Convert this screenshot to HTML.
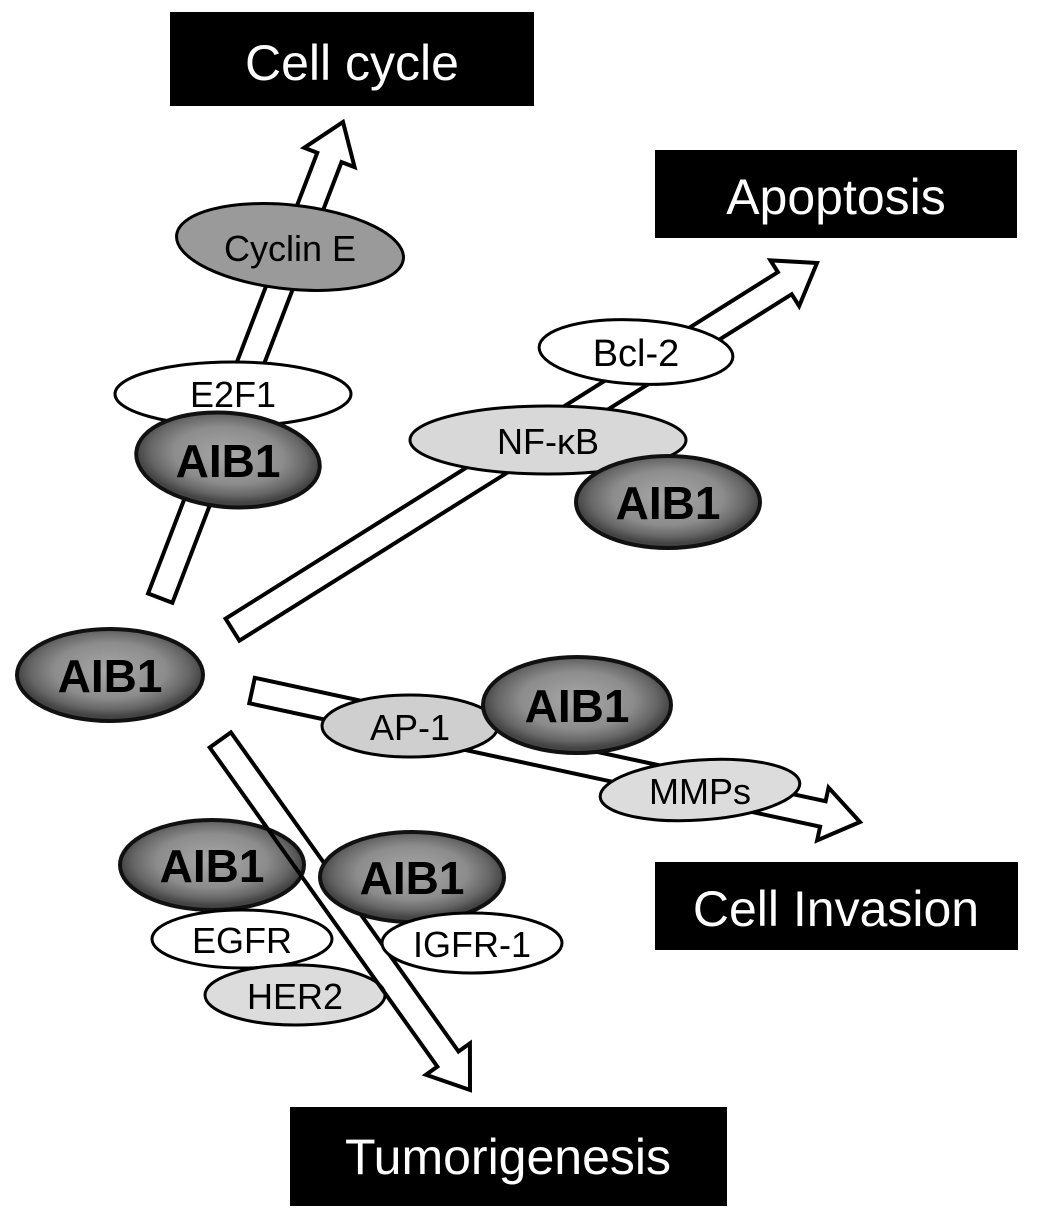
<!DOCTYPE html>
<html><head><meta charset="utf-8"><style>
html,body{margin:0;padding:0;background:#fff;}
svg{display:block;}
text{font-family:"Liberation Sans",sans-serif;}
</style></head><body>
<svg width="1063" height="1217" viewBox="0 0 1063 1217" xmlns="http://www.w3.org/2000/svg">
<defs>
<radialGradient id="g" cx="50%" cy="45%" r="50%">
<stop offset="0" stop-color="#a8a8a8"/><stop offset="0.6" stop-color="#8c8c8c"/><stop offset="0.85" stop-color="#666"/><stop offset="1" stop-color="#444"/>
</radialGradient>
</defs>
<!-- boxes -->
<rect x="170" y="12" width="364" height="94" fill="#000"/>
<text x="352" y="80" font-size="50" fill="#fff" text-anchor="middle">Cell cycle</text>
<rect x="655" y="150" width="362" height="88" fill="#000"/>
<text x="836" y="214" font-size="50" fill="#fff" text-anchor="middle">Apoptosis</text>
<rect x="655" y="862" width="363" height="88" fill="#000"/>
<text x="836" y="926" font-size="50" fill="#fff" text-anchor="middle">Cell Invasion</text>
<rect x="290" y="1107" width="437" height="99" fill="#000"/>
<text x="508" y="1174" font-size="50" fill="#fff" text-anchor="middle">Tumorigenesis</text>

<g transform="translate(343,122) rotate(-69)">
<polygon points="-510,-13 -38,-13 -38,-27 0,0 -38,27 -38,13 -510,13" fill="#fff" stroke="#000" stroke-width="4"/>
</g>
<ellipse cx="290" cy="247" rx="114" ry="42" fill="#9a9a9a" stroke="#000" stroke-width="3" transform="rotate(6 290 247)"/>
<text x="290" y="261" font-size="36" text-anchor="middle">Cyclin E</text>
<ellipse cx="233" cy="394" rx="118" ry="32" fill="#fff" stroke="#000" stroke-width="3"/>
<text x="233" y="407" font-size="36" text-anchor="middle">E2F1</text>
<ellipse cx="228" cy="460" rx="92" ry="47" fill="url(#g)" stroke="#111" stroke-width="4" transform="rotate(5 228 460)"/>
<text x="228" y="477" font-size="46" font-weight="bold" text-anchor="middle">AIB1</text>

<g transform="translate(817,263) rotate(-32.1)">
<polygon points="-690,-13 -38,-13 -38,-27 0,0 -38,27 -38,13 -690,13" fill="#fff" stroke="#000" stroke-width="4"/>
</g>
<ellipse cx="636" cy="352" rx="97" ry="32" fill="#fff" stroke="#000" stroke-width="3" transform="rotate(3 636 352)"/>
<text x="636" y="366" font-size="38" text-anchor="middle">Bcl-2</text>
<ellipse cx="548" cy="440" rx="138" ry="34" fill="#d8d8d8" stroke="#000" stroke-width="3"/>
<text x="548" y="454" font-size="36" text-anchor="middle">NF-κB</text>
<ellipse cx="668" cy="502" rx="92" ry="46" fill="url(#g)" stroke="#111" stroke-width="4"/>
<text x="668" y="519" font-size="46" font-weight="bold" text-anchor="middle">AIB1</text>

<ellipse cx="110" cy="675" rx="93" ry="46" fill="url(#g)" stroke="#111" stroke-width="4"/>
<text x="110" y="692" font-size="46" font-weight="bold" text-anchor="middle">AIB1</text>

<g transform="translate(860,822) rotate(12.2)">
<polygon points="-622,-13 -38,-13 -38,-27 0,0 -38,27 -38,13 -622,13" fill="#fff" stroke="#000" stroke-width="4"/>
</g>
<ellipse cx="410" cy="726" rx="88" ry="31" fill="#cfcfcf" stroke="#000" stroke-width="3"/>
<text x="410" y="740" font-size="36" text-anchor="middle">AP-1</text>
<ellipse cx="577" cy="705" rx="94" ry="48" fill="url(#g)" stroke="#111" stroke-width="4"/>
<text x="577" y="722" font-size="46" font-weight="bold" text-anchor="middle">AIB1</text>
<ellipse cx="700" cy="790" rx="100" ry="30" fill="#dcdcdc" stroke="#000" stroke-width="3" transform="rotate(-4 700 790)"/>
<text x="700" y="804" font-size="36" text-anchor="middle">MMPs</text>

<ellipse cx="212" cy="865" rx="92" ry="45" fill="url(#g)" stroke="#111" stroke-width="4"/>
<text x="212" y="882" font-size="46" font-weight="bold" text-anchor="middle">AIB1</text>
<ellipse cx="242" cy="939" rx="90" ry="29" fill="#fff" stroke="#000" stroke-width="3"/>
<text x="242" y="953" font-size="36" text-anchor="middle">EGFR</text>
<ellipse cx="295" cy="995" rx="90" ry="30" fill="#dcdcdc" stroke="#000" stroke-width="3"/>
<text x="295" y="1009" font-size="36" text-anchor="middle">HER2</text>
<g transform="translate(470,1090) rotate(54.5)">
<polygon points="-430,-13 -38,-13 -38,-27 0,0 -38,27 -38,13 -430,13" fill="none" stroke="#000" stroke-width="4"/>
</g>
<ellipse cx="412" cy="877" rx="92" ry="45" fill="url(#g)" stroke="#111" stroke-width="4"/>
<text x="412" y="894" font-size="46" font-weight="bold" text-anchor="middle">AIB1</text>
<ellipse cx="472" cy="943" rx="90" ry="30" fill="#fff" stroke="#000" stroke-width="3"/>
<text x="472" y="957" font-size="36" text-anchor="middle">IGFR-1</text>
</svg>
</body></html>
